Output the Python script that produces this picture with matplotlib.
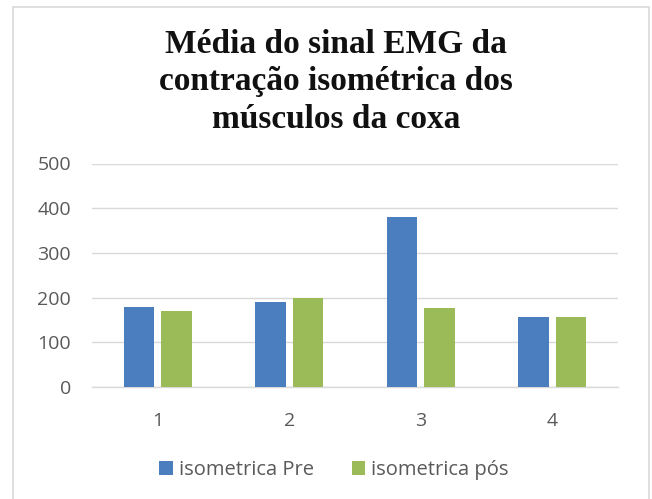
import matplotlib
matplotlib.use("Agg")
import matplotlib.pyplot as plt
import numpy as np
from matplotlib.patches import Rectangle

# Data
categories = ["1", "2", "3", "4"]
series_names = ["isometrica Pre", "isometrica pós"]
pre_values = [180, 190, 381, 156]
pos_values = [170, 199, 176, 156]
y_ticks = [0, 100, 200, 300, 400, 500]

title = "Média do sinal EMG da\ncontração isométrica dos\nmúsculos da coxa"

blue = "#4a7ebf"
green = "#9bbb59"
grid_col = "#d9d9d9"
text_col = "#595959"

fig = plt.figure(figsize=(6.52, 4.99), dpi=100)
fig.patch.set_facecolor("white")

# chart-area frame
fig.add_artist(Rectangle((13 / 652, -0.05), (649 - 13) / 652, 1 - 7 / 499 + 0.05,
                         transform=fig.transFigure, fill=False,
                         edgecolor=grid_col, linewidth=1.2))

ax = fig.add_axes([92 / 652, 1 - 387 / 499, (618 - 92) / 652, (387 - 163.5) / 499])

x = np.arange(len(categories))
w = 0.232
off = 0.143
ax.bar(x - off, pre_values, width=w, color=blue, label=series_names[0], zorder=3)
ax.bar(x + off, pos_values, width=w, color=green, label=series_names[1], zorder=3)

ax.set_xlim(-0.5, len(categories) - 0.5)
ax.set_ylim(0, 500)
ax.set_yticks(y_ticks)
ax.set_xticks(x)
ax.set_xticklabels(categories)
ax.yaxis.grid(True, color=grid_col, linewidth=1.0, zorder=0)
ax.set_axisbelow(True)
for s in ["top", "right", "left"]:
    ax.spines[s].set_visible(False)
ax.spines["bottom"].set_color(grid_col)
ax.spines["bottom"].set_linewidth(1.0)
ax.tick_params(axis="both", length=0, colors=text_col, labelsize=14)
ax.tick_params(axis="y", pad=15)
ax.tick_params(axis="x", pad=18)
for lbl in ax.get_xticklabels() + ax.get_yticklabels():
    lbl.set_fontfamily("Open Sans")

fig.text(336 / 652, 1 - 82 / 499, title, ha="center", va="center",
         fontsize=24, fontweight="bold", family="Liberation Serif",
         linespacing=1.26, color="#111111")

leg = fig.legend(loc="center", bbox_to_anchor=(334 / 652, 1 - 470 / 499), ncol=2,
                 frameon=False, handlelength=0.65, handleheight=0.65,
                 handletextpad=0.3, columnspacing=1.9,
                 prop={"family": "Open Sans", "size": 14.5})
for t in leg.get_texts():
    t.set_color(text_col)

fig.savefig("out.png", dpi=100, facecolor="white")
